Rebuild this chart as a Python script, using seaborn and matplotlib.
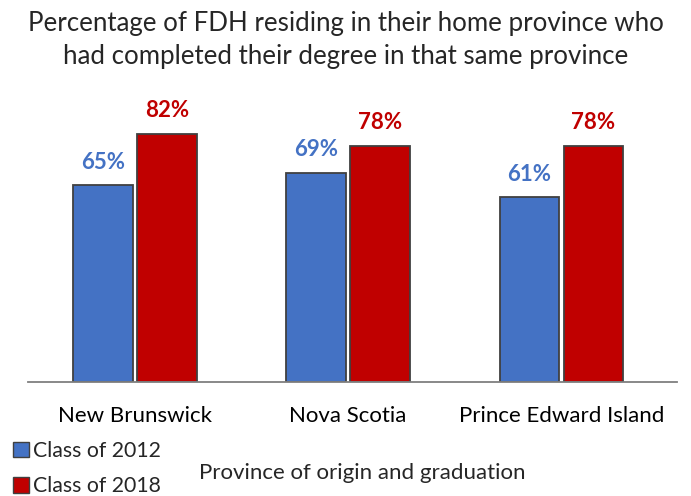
import matplotlib
matplotlib.use("Agg")
import matplotlib.pyplot as plt
import seaborn as sns
import pandas as pd
from matplotlib.patches import Patch

provinces = ["New Brunswick", "Nova Scotia", "Prince Edward Island"]
class_2012 = [65, 69, 61]
class_2018 = [82, 78, 78]
series_names = ["Class of 2012", "Class of 2018"]
colors = ["#4472C4", "#C00000"]

df = pd.DataFrame({
    "Province": provinces * 2,
    "Share": class_2012 + class_2018,
    "Cohort": [series_names[0]] * 3 + [series_names[1]] * 3,
})

sns.set_theme(style="white")
plt.rcParams["font.family"] = ["Lato", "DejaVu Sans"]

fig = plt.figure(figsize=(6.91, 4.96), dpi=100)
ax = fig.add_axes([0.041, 0.2298, 0.9385, 0.611])

sns.barplot(data=df, x="Province", y="Share", hue="Cohort",
            palette=colors, saturation=1, width=0.6, gap=0.07,
            edgecolor="#404040", linewidth=1.3, legend=False, ax=ax)

ax.set_xlim(-0.5, 2.542)
ax.set_ylim(0, 100)
ax.set_yticks([])
ax.set_ylabel("")
ax.set_xlabel("")
for s in ["top", "right", "left"]:
    ax.spines[s].set_visible(False)
ax.spines["bottom"].set_color("#7f7f7f")
ax.spines["bottom"].set_linewidth(1.3)
ax.tick_params(axis="x", length=0, labelsize=16, pad=17, colors="black")

for container, col in zip(ax.containers, colors):
    ax.bar_label(container, labels=[f"{v:.0f}%" for v in container.datavalues],
                 padding=9, color=col, fontsize=16, fontweight="bold")

title = fig.suptitle("Percentage of FDH residing in their home province who\nhad completed their degree in that same province",
                     x=0.5, y=0.978, fontsize=18.6, linespacing=1.42)

fig.text(0.524, 0.047, "Province of origin and graduation", ha="center", va="center", fontsize=16)

handles = [Patch(facecolor=c, edgecolor="#404040", linewidth=1) for c in colors]
fig.legend(handles, series_names, loc="lower left", bbox_to_anchor=(0.0, -0.026),
           frameon=False, fontsize=15.3, handlelength=0.75, handleheight=0.75,
           handletextpad=0.2, labelspacing=0.72, borderaxespad=0.2)

fig.savefig("out.png", dpi=100)
